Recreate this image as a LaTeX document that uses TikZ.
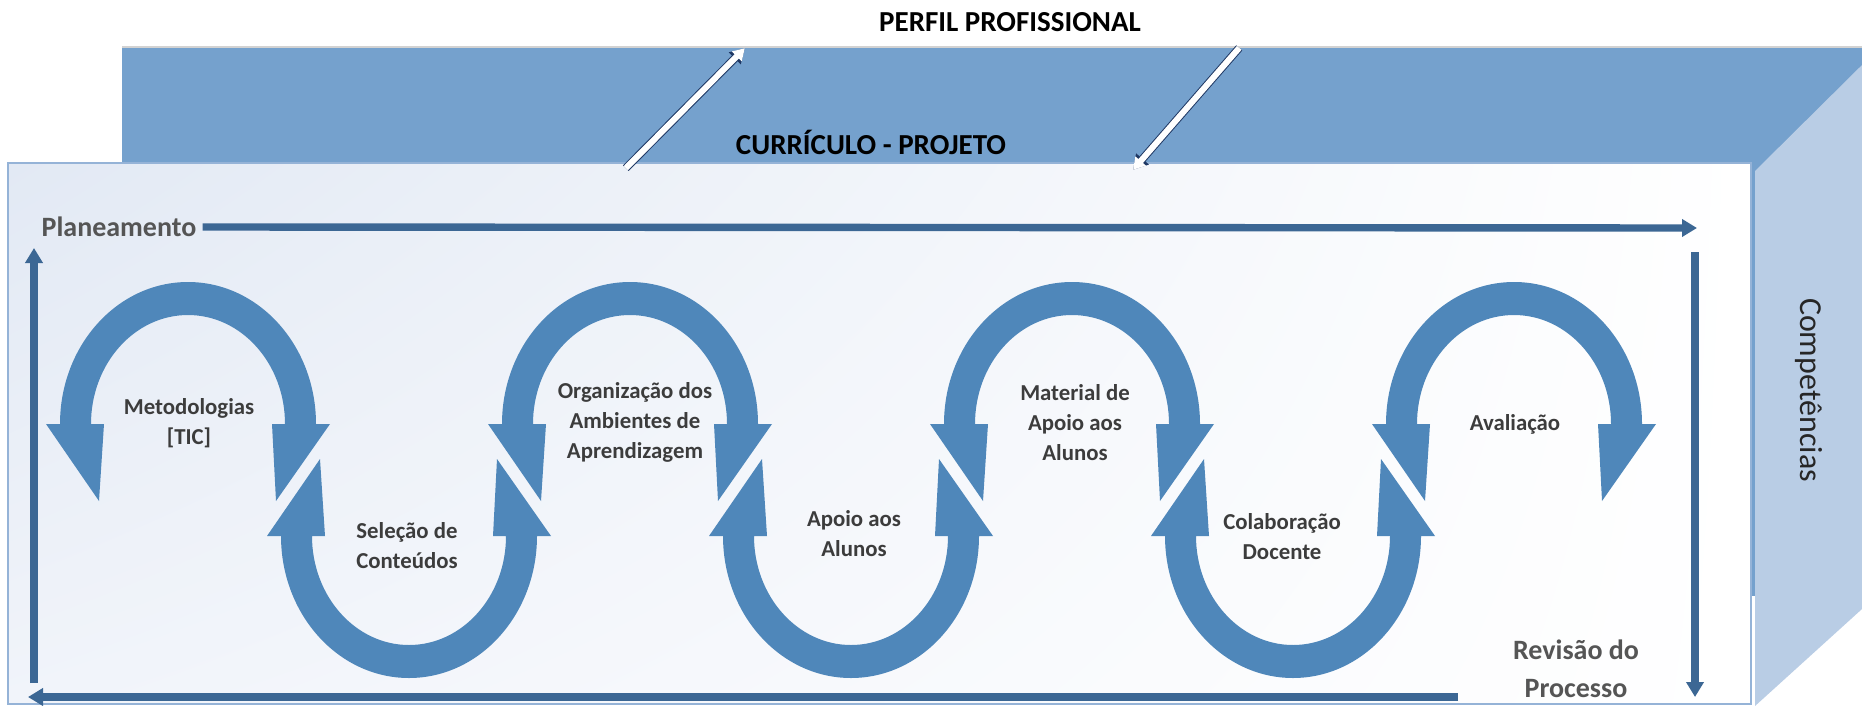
\documentclass[tikz,border=0pt]{standalone}
\usepackage{fontspec}
\setmainfont{Carlito}
\usetikzlibrary{arrows.meta,shadings}

\definecolor{backblue}{HTML}{75A1CD}
\definecolor{sideblue}{HTML}{B9CDE5}
\definecolor{loopblue}{HTML}{4F87BA}
\definecolor{framearrow}{HTML}{3C6794}
\definecolor{labelgray}{HTML}{3C3C3C}
\definecolor{biggray}{HTML}{555555}
\definecolor{edgeblue}{HTML}{95B3D7}
\definecolor{navyline}{HTML}{1F3864}
\definecolor{frontul}{HTML}{E2E9F4}
\definecolor{frontll}{HTML}{F1F4FA}

\tikzset{
  loop label/.style={font=\bfseries\fontsize{11.4}{15}\selectfont, text=labelgray, align=center, inner sep=0pt},
  big label/.style={font=\bfseries\fontsize{14}{19}\selectfont, text=biggray, align=center, inner sep=0pt},
  title label/.style={font=\bfseries\fontsize{14.5}{17}\selectfont, text=black, inner sep=0pt},
  frame arrow/.style={line width=3.7pt, framearrow, -{Triangle[length=7.5pt,width=8.5pt]}},
  open arrow/.style={white, line width=3pt, shorten >=0.8pt, shorten <=0.6pt, -{Triangle[length=5.8pt,width=6.6pt]},
    preaction={draw=navyline, line width=4pt, -{Triangle[length=7.2pt,width=8pt]}}},
  halfloop/.pic={
    \fill[loopblue] (-142,0) -- (-89,77) -- (-84,0) -- (-97,0)
      arc[start angle=180, end angle=360, x radius=97, y radius=109]
      -- (84,0) -- (88,77) -- (142,0) -- (128,0)
      arc[start angle=0, end angle=-180, x radius=128, y radius=142] -- cycle;
  }
}

\begin{document}
\begin{tikzpicture}[x=0.5pt,y=-0.5pt]
  \useasboundingbox (0,0) rectangle (1862,706);

  % back box and side face
  \fill[backblue] (122,48) rectangle (1862,596);
  \draw[gray!35, line width=1pt] (122,47.5) -- (1862,47.5);
  \fill[sideblue] (1755,171) -- (1862,65) -- (1862,609) -- (1755,706) -- cycle;

  % front box
  \shade[upper left=frontul, upper right=white, lower left=frontll, lower right=white]
    (8,163) rectangle (1751,704);
  \draw[edgeblue, line width=1pt] (8,163) rectangle (1751,704);

  % titles
  \node[title label] (perfil) at (1010,22) {PERFIL PROFISSIONAL};
  \node[title label] (curric) at (871,142) {CURRÍCULO - PROJETO};
  \node[rotate=-90, font=\fontsize{16}{19}\selectfont, text=black!85, inner sep=0pt] (compet) at (1809,390) {Competências};

  % links between the two faces
  \coordinate (c1) at (625,169);
  \coordinate (p1) at (746,47);
  \coordinate (p2) at (1240,47);
  \coordinate (c2) at (1132,171);
  \draw[open arrow] (c1) -- (p1);
  \draw[open arrow] (p2) -- (c2);

  % outer cycle
  \node[big label] (plan) at (119,227) {Planeamento};
  \node[big label] (revis) at (1576,669) {Revisão do\\Processo};
  \coordinate (tr) at (1697,228);
  \coordinate (rt) at (1695,252);
  \coordinate (rb) at (1695,697);
  \coordinate (br) at (1458,697);
  \coordinate (bl) at (28,697);
  \coordinate (lb) at (34,683);
  \coordinate (lt) at (34,248);
  \draw[frame arrow, shorten <=3pt] (plan.east) -- (tr);
  \draw[frame arrow] (rt) -- (rb);
  \draw[frame arrow] (br) -- (bl);
  \draw[frame arrow] (lb) -- (lt);

  % loops
  \foreach \cx in {188,630,1072,1514}
    \pic at (\cx,424) {halfloop};
  \foreach \cx in {409,851,1293}
    \pic[yscale=-1] at (\cx,536) {halfloop};

  \node[loop label] (metod) at (189,423) {Metodologias\\{[TIC]}};
  \node[loop label] (selec) at (407,546) {Seleção de\\Conteúdos};
  \node[loop label] (organ) at (635,422) {Organização dos\\Ambientes de\\Aprendizagem};
  \node[loop label] (apoio) at (854,534) {Apoio aos\\Alunos};
  \node[loop label] (mater) at (1075,423) {Material de\\Apoio aos\\Alunos};
  \node[loop label] (colab) at (1282,537) {Colaboração\\Docente};
  \node[loop label] (avali) at (1515,424) {Avaliação};
\end{tikzpicture}
\end{document}
